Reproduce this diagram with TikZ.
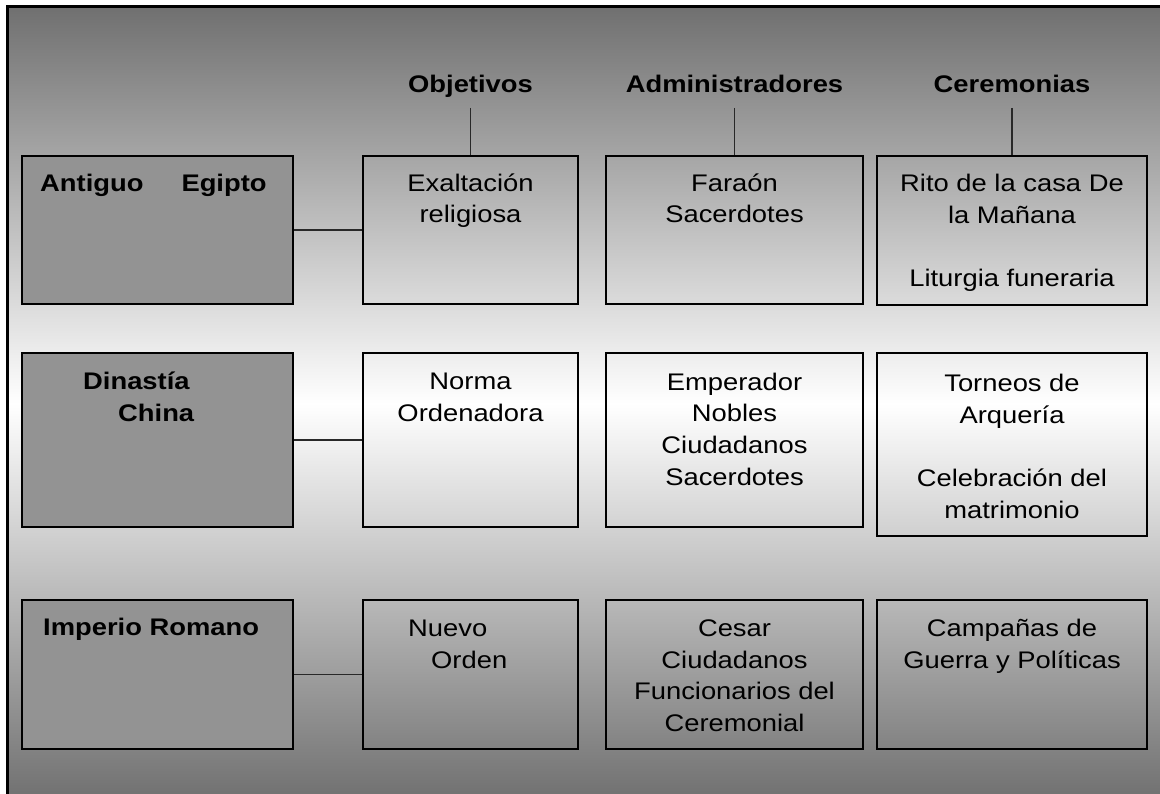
\documentclass[tikz,border=0pt]{standalone}
\usepackage{fontspec}
\setmainfont{Liberation Sans}[FakeStretch=1.14]
\definecolor{bgdark}{RGB}{112,112,112}
\definecolor{leftgray}{RGB}{147,147,147}
\definecolor{connc}{RGB}{40,40,40}
\begin{document}
\begin{tikzpicture}[x=1pt,y=-1pt,
  every node/.style={inner sep=0pt, font=\fontsize{24}{31.6}\selectfont},
  box/.style={draw=black, line width=2pt, rectangle},
  leftbox/.style={box, fill=leftgray},
  hdr/.style={font=\fontsize{24}{31.6}\selectfont\bfseries},
  txt/.style={align=center},
  conn/.style={draw=connc, line width=1.2pt}]
\useasboundingbox (0,0) rectangle (1160,794);
\clip (0,0) rectangle (1160,794);
\fill[white] (0,0) rectangle (1160,794);
\shade[top color=bgdark, bottom color=bgdark, middle color=white] (7,7) rectangle (1160,800);
\draw[line width=3pt] (7,7) rectangle (1175,810);

% headers
\node[hdr, anchor=base] (hObj) at (470.5,92.7) {Objetivos};
\node[hdr, anchor=base] (hAdm) at (734.5,92.7) {Administradores};
\node[hdr, anchor=base] (hCer) at (1012,92.7) {Ceremonias};
\coordinate (cObj) at (470.5,108);
\coordinate (cAdm) at (734.5,108);
\coordinate (cCer) at (1012,108);

% row 1
\node[leftbox, minimum width=271.5, minimum height=148] (eg) at (157.25,230) {};
\node[box, minimum width=215, minimum height=148] (obj1) at (470.5,230) {};
\node[box, minimum width=257, minimum height=148] (adm1) at (734.5,230) {};
\node[box, minimum width=270, minimum height=149] (cer1) at (1012,230.5) {};
% row 2
\node[leftbox, minimum width=271.5, minimum height=174] (ch) at (157.25,440) {};
\node[box, minimum width=215, minimum height=174] (obj2) at (470.5,440) {};
\node[box, minimum width=257, minimum height=174] (adm2) at (734.5,440) {};
\node[box, minimum width=270, minimum height=183] (cer2) at (1012,444.5) {};
% row 3
\node[leftbox, minimum width=271.5, minimum height=149] (ro) at (157.25,674.5) {};
\node[box, minimum width=215, minimum height=149] (obj3) at (470.5,674.5) {};
\node[box, minimum width=257, minimum height=149] (adm3) at (734.5,674.5) {};
\node[box, minimum width=270, minimum height=149] (cer3) at (1012,674.5) {};

% connectors
\draw[conn] (cObj) -- (cObj |- obj1.north);
\draw[conn] (cAdm) -- (cAdm |- adm1.north);
\draw[conn] (cCer) -- (cCer |- cer1.north);
\draw[conn] (eg) -- (obj1);
\draw[conn] (ch) -- (obj2);
\draw[conn] (ro) -- (obj3);

% texts row 1 (base anchor = baseline of last line)
\node[hdr, anchor=base west] (tEg) at (40,191.7) {Antiguo\hskip 38pt Egipto};
\node[txt, anchor=base] (tObj1) at (470.5,223) {Exaltación\\religiosa};
\node[txt, anchor=base] (tAdm1) at (734.5,223) {Faraón\\Sacerdotes};
\node[txt, anchor=base] (tCer1) at (1012,286.5) {Rito de la casa De\\la Mañana\\[31.6pt]Liturgia funeraria};
% texts row 2
\node[hdr, align=left, anchor=base west] (tCh) at (83,421) {Dinastía\\\hspace*{35pt}China};
\node[txt, anchor=base] (tObj2) at (470.5,421) {Norma\\Ordenadora};
\node[txt, anchor=base] (tAdm2) at (734.5,485) {Emperador\\Nobles\\Ciudadanos\\Sacerdotes};
\node[txt, anchor=base] (tCer2) at (1012,518) {Torneos de\\Arquería\\[31.6pt]Celebración del\\matrimonio};
% texts row 3
\node[hdr, anchor=base west] (tRo) at (43,635) {Imperio Romano};
\node[align=left, anchor=base west] (tObj3) at (408,668) {Nuevo\\\hspace*{23pt}Orden};
\node[txt, anchor=base] (tAdm3) at (734.5,731.5) {Cesar\\Ciudadanos\\Funcionarios del\\Ceremonial};
\node[txt, anchor=base] (tCer3) at (1012,668) {Campañas de\\Guerra y Políticas};
\end{tikzpicture}
\end{document}
